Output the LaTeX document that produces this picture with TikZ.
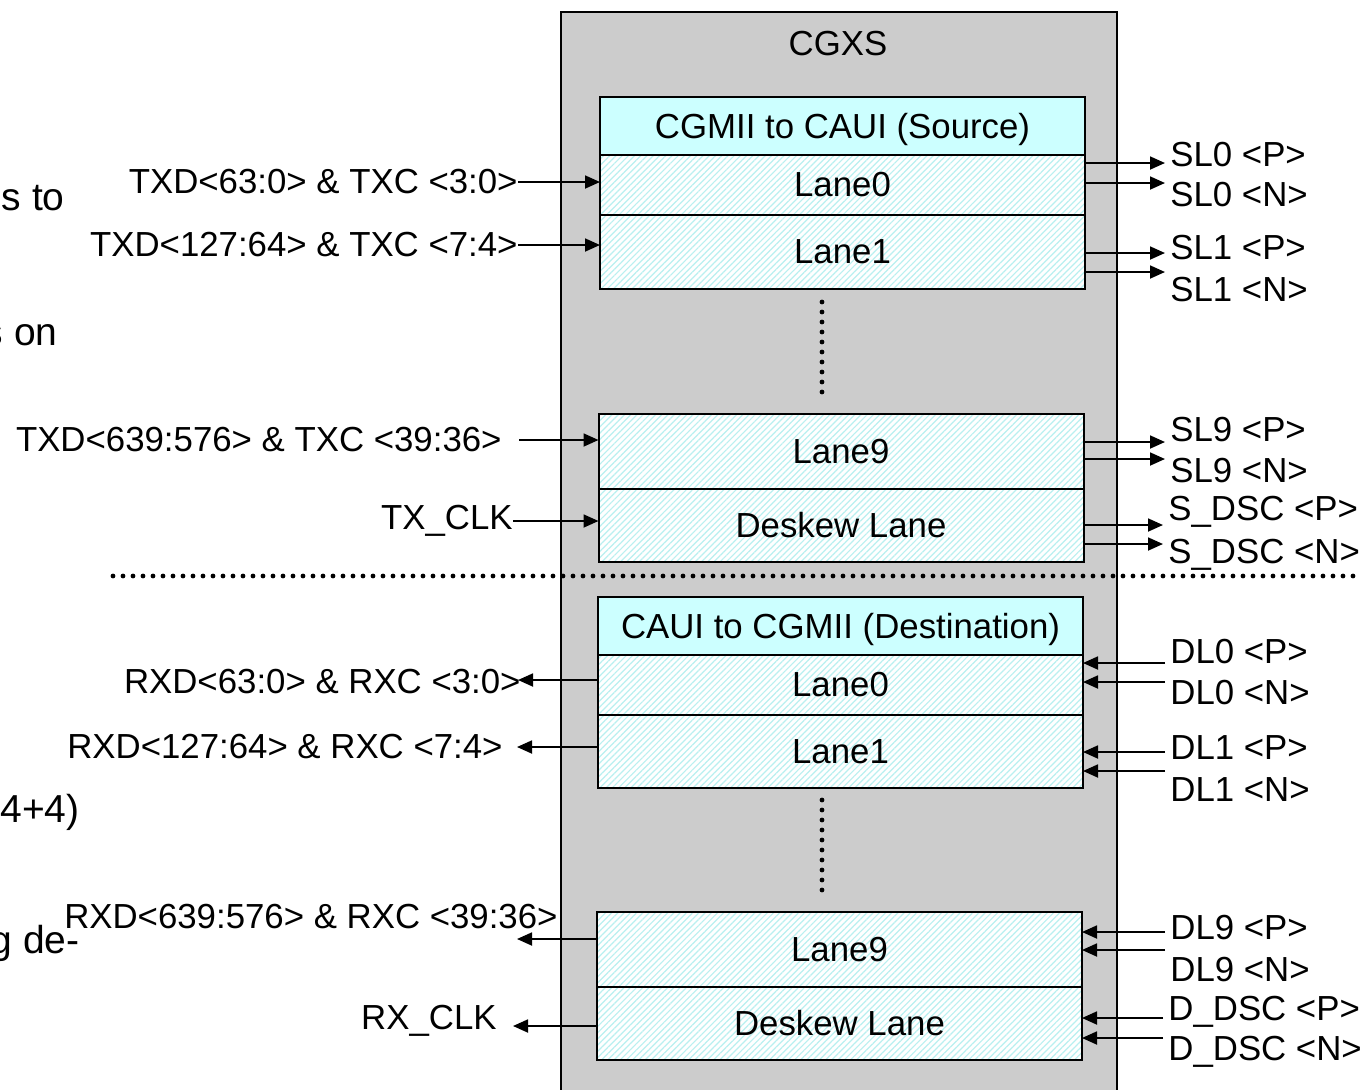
\documentclass[tikz,border=0pt]{standalone}
\usepackage{fontspec}
\setmainfont{Liberation Sans}
\usetikzlibrary{arrows.meta,positioning,patterns.meta}

\definecolor{cgxsgray}{RGB}{204,204,204}
\definecolor{hdrcyan}{RGB}{204,255,255}
\definecolor{hatchcyan}{RGB}{185,240,240}

\begin{document}
\begin{tikzpicture}[
  x=0.5pt, y=-0.5pt,
  font=\fontsize{17.4}{20}\selectfont,
  arr/.style={-{Triangle[length=7.5pt,width=6.5pt]}, line width=0.9pt},
  hdrbox/.style={draw, line width=1pt, fill=hdrcyan, minimum width=242.5pt,
    inner sep=0pt, outer sep=0pt, text depth=0pt},
  lanebox/.style={draw, line width=1pt, preaction={fill=white},
    pattern={Lines[angle=45,distance=2.2pt,line width=0.6pt]},
    pattern color=hatchcyan, minimum width=242.5pt,
    inner sep=0pt, outer sep=0pt},
  llbl/.style={anchor=east, inner sep=0pt},
  rlbl/.style={anchor=west, inner sep=2.5pt},
  frag/.style={anchor=base east, inner sep=0pt, font=\fontsize{19.5}{22}\selectfont},
  dotline/.style={line width=2.4pt, line cap=round, dash pattern=on 0pt off 5pt},
]
\useasboundingbox (0,0) rectangle (1362,1089);
\clip (0,0) rectangle (1362,1089);

% ── cut-off text at the left edge ───────────────────────────────────────────
\node[frag] (fraga) at (65,210) {s to};
\node[frag] (fragb) at (58,345) {s on};
\node[frag] (fragc) at (80,822) {4+4)};
\node[frag] (fragd) at (80,953) {g de-};

% ── CGXS container ──────────────────────────────────────────────────────────
\draw[fill=cgxsgray, line width=1pt] (561,12) rectangle (1117,1110);
\node (cgxs) at (838,44) {CGXS};

% separator between source and destination
\draw[dotline] (113,576) -- (1362,576);

% ── source side ─────────────────────────────────────────────────────────────
\node[hdrbox, minimum height=29pt] (srchdr) at (842.5,126) {CGMII to CAUI (Source)};
\node[lanebox, minimum height=30pt, below=0pt of srchdr] (tl0) {Lane0};
\node[lanebox, minimum height=37pt, below=0pt of tl0] (tl1) {Lane1};
\node[lanebox, minimum height=37.5pt] (tl9) at (841,451.5) {Lane9};
\node[lanebox, minimum height=36.5pt, below=0pt of tl9] (tldsk) {Deskew Lane};

\draw[dotline] (822,302) -- (822,396);

% ── destination side ────────────────────────────────────────────────────────
\node[hdrbox, minimum height=29pt] (dsthdr) at (840.5,626) {CAUI to CGMII (Destination)};
\node[lanebox, minimum height=30pt, below=0pt of dsthdr] (rl0) {Lane0};
\node[lanebox, minimum height=36.5pt, below=0pt of rl0] (rl1) {Lane1};
\node[lanebox, minimum height=37.5pt] (rl9) at (839.5,949.5) {Lane9};
\node[lanebox, minimum height=36.5pt, below=0pt of rl9] (rldsk) {Deskew Lane};

\draw[dotline] (822,800) -- (822,890);

% ── parallel side labels ────────────────────────────────────────────────────
\node[llbl] (txd0)  at (518,182)  {TXD<63:0> \& TXC <3:0>};
\node[llbl] (txd1)  at (518,245)  {TXD<127:64> \& TXC <7:4>};
\node[llbl] (txd9)  at (502,440)  {TXD<639:576> \& TXC <39:36>};
\node[llbl] (txclk) at (513,521)  {TX\_CLK};
\node[llbl] (rxd0)  at (521,682)  {RXD<63:0> \& RXC <3:0>};
\node[llbl] (rxd1)  at (503,747)  {RXD<127:64> \& RXC <7:4>};
\node[llbl] (rxd9)  at (558,917)  {RXD<639:576> \& RXC <39:36>};
\node[llbl] (rxclk) at (497,1021) {RX\_CLK};

% ── serial side labels ──────────────────────────────────────────────────────
\node[rlbl] (sl0p)  at (1165,155)  {SL0 <P>};
\node[rlbl] (sl0n)  at (1165,195)  {SL0 <N>};
\node[rlbl] (sl1p)  at (1165,248)  {SL1 <P>};
\node[rlbl] (sl1n)  at (1165,290)  {SL1 <N>};
\node[rlbl] (sl9p)  at (1165,430)  {SL9 <P>};
\node[rlbl] (sl9n)  at (1165,471)  {SL9 <N>};
\node[rlbl] (sdscp) at (1163,512)  {S\_DSC <P>};
\node[rlbl] (sdscn) at (1163,555)  {S\_DSC <N>};
\node[rlbl] (dl0p)  at (1165,652)  {DL0 <P>};
\node[rlbl] (dl0n)  at (1165,693)  {DL0 <N>};
\node[rlbl] (dl1p)  at (1165,748)  {DL1 <P>};
\node[rlbl] (dl1n)  at (1165,790)  {DL1 <N>};
\node[rlbl] (dl9p)  at (1165,928)  {DL9 <P>};
\node[rlbl] (dl9n)  at (1165,970)  {DL9 <N>};
\node[rlbl] (ddscp) at (1163,1012) {D\_DSC <P>};
\node[rlbl] (ddscn) at (1163,1052) {D\_DSC <N>};

% ── arrows: parallel in / out ───────────────────────────────────────────────
\draw[arr] (txd0.east) -- (txd0.east -| tl0.west);
\draw[arr] (txd1.east) -- (txd1.east -| tl1.west);
\draw[arr] ([xshift=8.5pt]txd9.east) -- (txd9.east -| tl9.west);
\draw[arr] (txclk.east) -- (txclk.east -| tldsk.west);

\draw[arr] ([yshift=1pt]rxd0.east -| rl0.west) -- ([xshift=-1.5pt,yshift=1pt]rxd0.east);
\draw[arr] (rxd1.east -| rl1.west) -- ([xshift=7pt]rxd1.east);
\draw[arr] ([yshift=5.25pt]rl9.west) -- ([yshift=5.25pt,xshift=10pt]rl9.west -| rxclk.east);
\draw[arr] ([yshift=-1.25pt]rldsk.west) -- ([yshift=-1.25pt,xshift=8pt]rldsk.west -| rxclk.east);

% ── arrows: serial out / in ─────────────────────────────────────────────────
\foreach \src/\dst/\dy in {tl0/sl0p/11pt, tl0/sl0n/1pt, tl1/sl1p/-0.5pt, tl1/sl1n/-10pt,
    tl9/sl9p/4.75pt, tl9/sl9n/-3.75pt, tldsk/sdscp/0.25pt, tldsk/sdscn/-9.25pt}
  \draw[arr] ([yshift=\dy]\src.east) -- ([yshift=\dy]\src.east -| \dst.west);

\foreach \src/\dst/\dy in {rl0/dl0p/11pt, rl0/dl0n/1.5pt, rl1/dl1p/-0.25pt, rl1/dl1n/-9.75pt,
    rl9/dl9p/8.75pt, rl9/dl9n/-0.25pt, rldsk/ddscp/2.75pt, rldsk/ddscn/-7.25pt}
  \draw[arr] ([yshift=\dy]\src.east -| \dst.west) -- ([yshift=\dy]\src.east);
\end{tikzpicture}
\end{document}
